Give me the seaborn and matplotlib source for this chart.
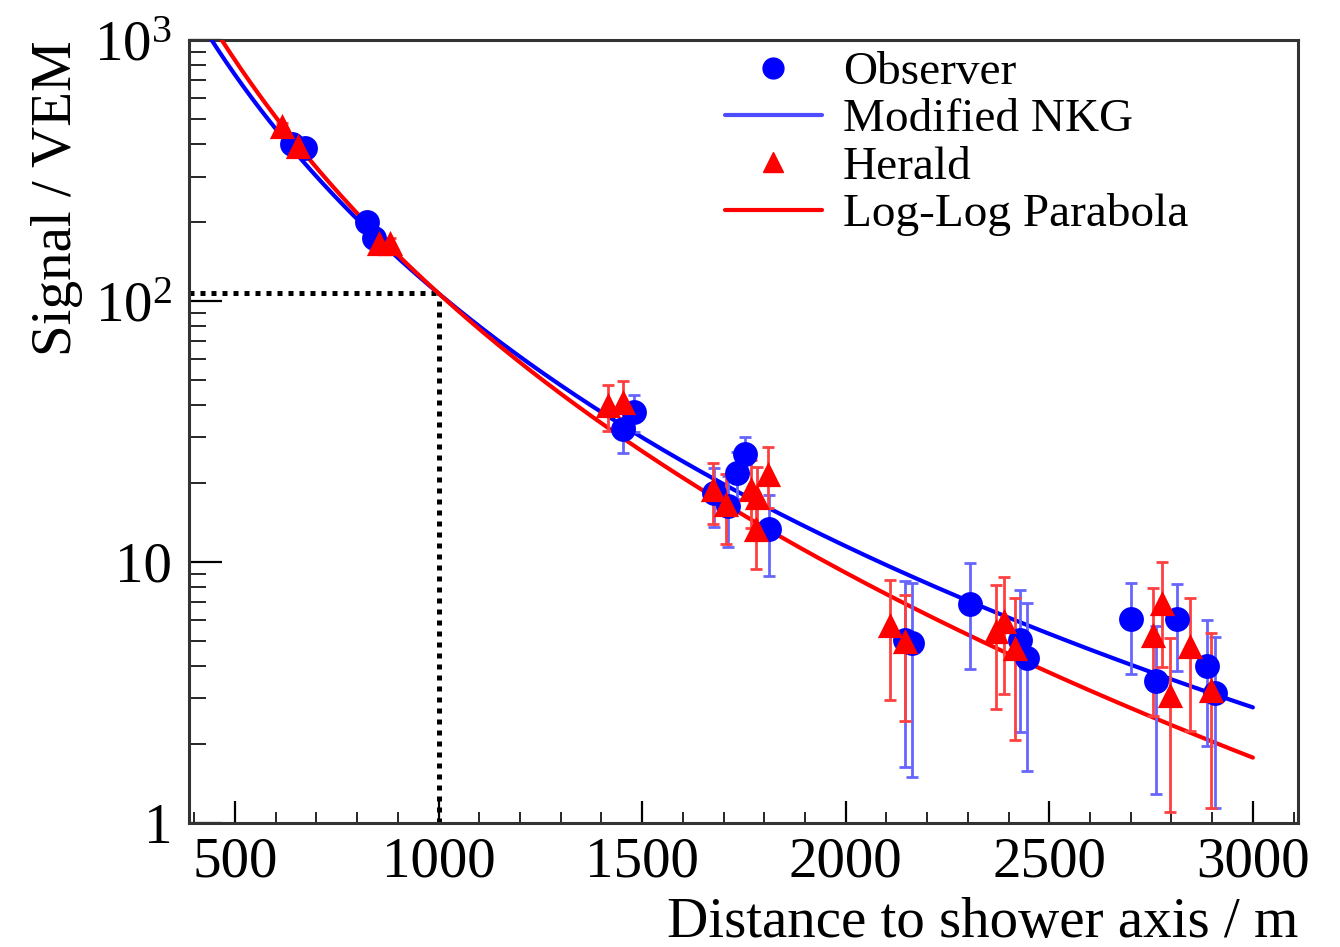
import numpy as np
import pandas as pd
import matplotlib
matplotlib.use('Agg')
import matplotlib.pyplot as plt
from matplotlib.ticker import FixedLocator, NullFormatter
from matplotlib.lines import Line2D
import seaborn as sns

# Observer stations (distance / m, signal / VEM, error)
obs_r = [640, 672, 824, 841, 1452, 1481, 1677, 1711, 1732, 1752, 1811,
         2146, 2163, 2306, 2429, 2446, 2700, 2762, 2814, 2887, 2907]
obs_s = [398, 387, 200, 174, 32.4, 37.5, 18.3, 16.4, 22, 26, 13.4,
         5.04, 4.9, 6.88, 5.04, 4.28, 6.02, 3.49, 6.02, 3.98, 3.14]
obs_err = [12, 12, 8, 8, 6.3, 6, 4.7, 5, 4.5, 4, 4.6,
           3.4, 3.4, 3, 2.8, 2.7, 2.3, 2.2, 2.2, 2, 2]

# Herald stations
her_r = [615, 656, 853, 882, 1415, 1452, 1674, 1707, 1768, 1783, 1808, 1779,
         2109, 2146, 2368, 2388, 2417, 2754, 2777, 2796, 2846, 2896]
her_s = [468, 392, 167, 167, 39.8, 41, 19, 16.7, 19, 17.7, 21.8, 13.4,
         5.76, 4.96, 5.43, 5.93, 4.68, 5.27, 6.97, 3.1, 4.75, 3.24]
her_err = [14, 12, 8, 8, 8, 8.5, 5, 5, 5.5, 5.5, 5.7, 4,
           2.8, 2.5, 2.7, 2.8, 2.6, 2.7, 3, 2, 2.5, 2.1]

# fitted LDF parameters
s1000 = 107
nkg_beta, nkg_beta_gamma, nkg_r1 = -1.455, -2.642, 700
llp_beta, llp_gamma = -3.263, -0.976

x_ticks = [500, 1000, 1500, 2000, 2500, 3000]
y_ticks = [1, 10, 100, 1000]
y_ticklabels = ['1', '10', r'$\mathregular{10^{2}}$', r'$\mathregular{10^{3}}$']

sns.set_theme(style='white')
plt.rcParams['font.family'] = ['Liberation Serif', 'DejaVu Serif']
plt.rcParams['mathtext.fontset'] = 'custom'
plt.rcParams['mathtext.rm'] = 'Liberation Serif'
plt.rcParams['text.color'] = 'black'
plt.rcParams['axes.labelcolor'] = 'black'

r = np.linspace(400, 3000, 600)
nkg = s1000 * (r / 1000) ** nkg_beta * ((r + nkg_r1) / (1000 + nkg_r1)) ** nkg_beta_gamma
lr = np.log10(r / 1000)
llp = s1000 * 10 ** (llp_beta * lr + llp_gamma * lr ** 2)
curves = pd.DataFrame({'r': r, 'nkg': nkg, 'llp': llp})

fig = plt.figure(figsize=(13.4, 9.47), dpi=100)
ax = fig.add_axes([0.141, 0.131, 0.8277, 0.8267])

ax.set_yscale('log')
ax.set_xlim(387, 3111)
ax.set_ylim(1, 1000)

# reference lines at 1000 m
ax.hlines(s1000, 387, 1000, colors='black', linestyles=(0, (1, 1.2)), lw=3.6, zorder=2)
ax.vlines(1000, 1, s1000, colors='black', linestyles=(0, (1, 1.2)), lw=3.6, zorder=2)

sns.lineplot(data=curves, x='r', y='nkg', color='blue', lw=3, ax=ax, zorder=3)
sns.lineplot(data=curves, x='r', y='llp', color='red', lw=3, ax=ax, zorder=3)

ax.errorbar(obs_r, obs_s, yerr=obs_err, fmt='none', ecolor=(0.4, 0.4, 1.0),
            elinewidth=2, capsize=4, capthick=2, zorder=4)
ax.errorbar(her_r, her_s, yerr=her_err, fmt='none', ecolor=(1.0, 0.25, 0.25),
            elinewidth=2, capsize=4, capthick=2, zorder=4)

sns.scatterplot(x=obs_r, y=obs_s, marker='o', color='blue', s=320, linewidth=0,
                ax=ax, zorder=5)
sns.scatterplot(x=her_r, y=her_s, marker='^', color='red', s=330, linewidth=0,
                ax=ax, zorder=6)

ax.xaxis.set_major_locator(FixedLocator(x_ticks))
ax.xaxis.set_minor_locator(FixedLocator(np.arange(400, 3200, 100)))
ax.set_xticklabels([str(t) for t in x_ticks])
ax.yaxis.set_major_locator(FixedLocator(y_ticks))
ax.set_yticklabels(y_ticklabels)
ax.yaxis.set_minor_locator(FixedLocator([k * 10 ** e for e in range(3) for k in range(2, 10)]))
ax.yaxis.set_minor_formatter(NullFormatter())

ax.tick_params(axis='x', which='major', direction='in', length=16, width=1.6,
               labelsize=41, pad=10, colors='black', bottom=True, top=False)
ax.tick_params(axis='x', which='minor', direction='in', length=8, width=1.4,
               bottom=True, top=False)
ax.tick_params(axis='y', which='major', direction='in', length=24, width=1.6,
               labelsize=41, pad=12, colors='black', left=True, right=False)
ax.tick_params(axis='y', which='minor', direction='in', length=12, width=1.4,
               left=True, right=False)

for sp in ax.spines.values():
    sp.set_color('#333333')
    sp.set_linewidth(2.2)

ax.set_xlabel('Distance to shower axis / m', fontsize=41, loc='right', labelpad=6)
ax.set_ylabel('Signal / VEM', fontsize=41, loc='top', labelpad=8)

handles = [
    Line2D([], [], marker='o', color='blue', ls='none', markersize=15),
    Line2D([], [], color=(0.3, 0.3, 1.0), lw=3),
    Line2D([], [], marker='^', color='red', ls='none', markersize=15),
    Line2D([], [], color='red', lw=3),
]
labels = ['Observer', 'Modified NKG', 'Herald', 'Log-Log Parabola']
fig.legend(handles, labels, loc='upper left', bbox_to_anchor=(0.541, 0.946),
           frameon=False, fontsize=34, borderpad=0, labelspacing=0.09,
           handlelength=2.05, handletextpad=0.45, borderaxespad=0)

fig.savefig('out.png', dpi=100)
